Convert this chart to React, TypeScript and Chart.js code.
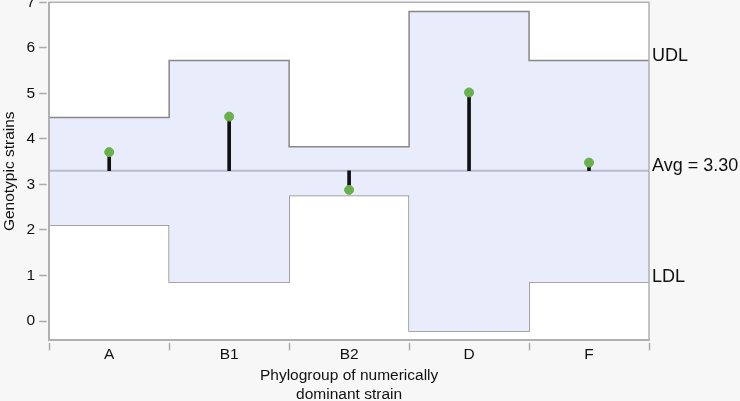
import React, { useEffect, useRef } from 'react';
import { Chart, registerables } from 'chart.js';
Chart.register(...registerables);

const categories = ['A', 'B1', 'B2', 'D', 'F'];
const groupValues = [3.71, 4.49, 2.88, 5.02, 3.48];
const udl = [4.47, 5.72, 3.83, 6.8, 5.72];
const ldl = [2.11, 0.86, 2.76, -0.22, 0.86];
const average = 3.3;
const avgLabel = 'Avg = 3.30';
const yTicks = [0, 1, 2, 3, 4, 5, 6, 7];
const xTitle = ['Phylogroup of numerically', 'dominant strain'];
const yTitle = 'Genotypic strains';

const FONT = '"Liberation Sans", Arial, Helvetica, sans-serif';

const stepData = (vals: number[]) =>
  vals.map((v, i) => ({ x: i, y: v })).concat([{ x: vals.length, y: vals[vals.length - 1] }]);

export default function App() {
  const ref = useRef<HTMLCanvasElement | null>(null);
  useEffect(() => {
    if (!ref.current) return;
    Chart.defaults.font.family = FONT;
    Chart.defaults.color = '#222';
    const bgPlugin = {
      id: 'bgPlugin',
      beforeDraw(chart: any) {
        const { ctx, chartArea } = chart;
        ctx.save();
        ctx.fillStyle = '#ffffff';
        ctx.fillRect(chartArea.left, chartArea.top, chartArea.right - chartArea.left, chartArea.bottom - chartArea.top);
        ctx.restore();
      },
      afterDatasetsDraw(chart: any) {
        const { ctx, chartArea } = chart;
        ctx.save();
        ctx.strokeStyle = '#b0b0b0';
        ctx.lineWidth = 1.5;
        ctx.strokeRect(chartArea.left, chartArea.top, chartArea.right - chartArea.left, chartArea.bottom - chartArea.top);
        ctx.restore();
      },
      afterDraw(chart: any) {
        const { ctx, chartArea } = chart;
        const ys = chart.scales.y;
        ctx.save();
        ctx.font = '18px ' + FONT;
        ctx.fillStyle = '#111';
        ctx.textAlign = 'left';
        ctx.textBaseline = 'alphabetic';
        const x = chartArea.right + 3;
        ctx.fillText('UDL', x, ys.getPixelForValue(udl[udl.length - 1]));
        ctx.fillText(avgLabel, x, ys.getPixelForValue(average));
        ctx.fillText('LDL', x, ys.getPixelForValue(ldl[ldl.length - 1]));
        ctx.restore();
      },
    };
    const chart = new Chart(ref.current, {
      type: 'line',
      data: {
        datasets: [
          {
            type: 'scatter',
            data: groupValues.map((v, i) => ({ x: i + 0.5, y: v })),
            backgroundColor: '#6ab04c',
            borderColor: '#6ab04c',
            pointRadius: 4.5,
            pointHoverRadius: 4.5,
            showLine: false,
            order: 0,
          } as any,
          {
            type: 'bar',
            data: groupValues.map((v, i) => ({ x: i + 0.5, y: [average, v] })),
            backgroundColor: '#111111',
            borderWidth: 0,
            barThickness: 3,
            order: 1,
          } as any,
          {
            type: 'line',
            data: [
              { x: 0, y: average },
              { x: categories.length, y: average },
            ],
            borderColor: '#b9bccb',
            borderWidth: 2,
            pointRadius: 0,
            fill: false,
            order: 2,
          },
          {
            type: 'line',
            data: stepData(udl),
            stepped: true,
            borderColor: '#888888',
            borderWidth: 1.5,
            pointRadius: 0,
            fill: '+1',
            backgroundColor: '#e9ecfb',
            order: 3,
          } as any,
          {
            type: 'line',
            data: stepData(ldl),
            stepped: true,
            borderColor: '#888888',
            borderWidth: 1.5,
            pointRadius: 0,
            fill: false,
            order: 4,
          } as any,
        ],
      },
      options: {
        animation: false,
        responsive: false,
        events: [],
        layout: { padding: { right: 91, left: 0, top: 0, bottom: 0 } },
        plugins: { legend: { display: false }, tooltip: { enabled: false } },
        scales: {
          xb: {
            type: 'linear',
            position: 'bottom',
            weight: 0,
            min: 0,
            max: categories.length,
            offset: false,
            afterBuildTicks: (scale: any) => {
              scale.ticks = categories.map((_, i) => ({ value: i })).concat([{ value: categories.length }]);
            },
            afterFit: (scale: any) => {
              scale.height = 5;
            },
            ticks: { display: false },
            grid: {
              drawOnChartArea: false,
              tickLength: 10,
              tickColor: '#aaaaaa',
              tickWidth: 1.5,
              tickBorderDash: [0, 2.5, 8, 0],
            },
            border: { display: true, color: '#b0b0b0', width: 1.5 },
          },
          x: {
            type: 'linear',
            position: 'bottom',
            weight: 1,
            min: 0,
            max: categories.length,
            offset: false,
            afterBuildTicks: (scale: any) => {
              scale.ticks = categories.map((_, i) => ({ value: i + 0.5 }));
            },
            ticks: {
              autoSkip: false,
              maxRotation: 0,
              padding: 0,
              font: { size: 15.5 },
              color: '#111',
              callback: (v: any) => categories[Math.floor(v)],
            },
            grid: { display: false, drawTicks: false },
            border: { display: false },
            title: { display: true, text: xTitle, font: { size: 15.5 }, color: '#111', padding: { top: 3, bottom: 0 } },
          },
          y: {
            type: 'linear',
            min: -0.42,
            max: 7,
            afterBuildTicks: (scale: any) => {
              scale.ticks = yTicks.map((v) => ({ value: v }));
            },
            ticks: { font: { size: 15.5 }, color: '#111', padding: 4 },
            grid: {
              drawOnChartArea: false,
              tickLength: 10,
              tickColor: '#aaaaaa',
              tickWidth: 1.5,
              tickBorderDash: [7.5, 2.5],
            },
            border: { display: true, color: '#b0b0b0', width: 1.5 },
            title: { display: true, text: yTitle, font: { size: 15.5 }, color: '#111', padding: { top: 0, bottom: 4 } },
          },
        },
      },
      plugins: [bgPlugin],
    } as any);
    return () => chart.destroy();
  }, []);
  return (
    <div style={{ position: 'fixed', left: 0, top: 0, width: 740, height: 401, overflow: 'hidden', background: '#f7f7f7' }}>
      <canvas ref={ref} width={740} height={415} style={{ position: 'absolute', left: 0, top: -11, width: 740, height: 415 }} />
    </div>
  );
}
